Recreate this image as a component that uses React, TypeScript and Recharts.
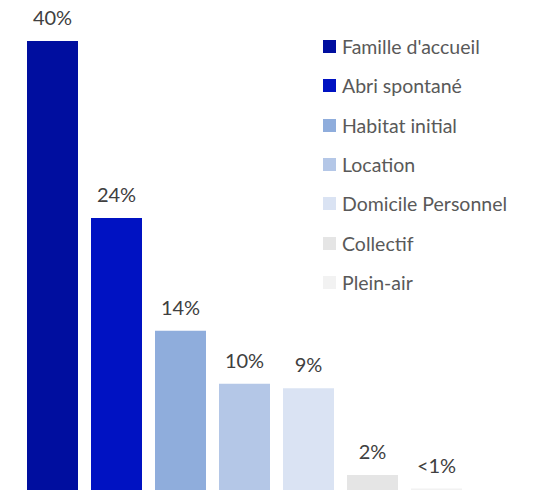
import React from "react";
import { Bar, BarChart, Cell, LabelList, Legend, XAxis, YAxis } from "recharts";

const categories = [
  "Famille d'accueil",
  "Abri spontané",
  "Habitat initial",
  "Location",
  "Domicile Personnel",
  "Collectif",
  "Plein-air",
];
const values = [40, 24.3, 14.3, 9.6, 9.2, 1.5, 0.3];
const labels = ["40%", "24%", "14%", "10%", "9%", "2%", "<1%"];
const colors = [
  "#000e9f",
  "#0012c2",
  "#8faddc",
  "#b4c7e7",
  "#dae3f3",
  "#e5e5e5",
  "#f2f2f2",
];

const FONT = "'Gill Sans', Lato, sans-serif";

const chartData = categories.map((name, i) => ({
  name,
  value: values[i],
  label: labels[i],
}));

// custom legend: square + name, one per row
const renderLegend = () => (
  <div style={{ fontFamily: FONT }}>
    {categories.map((name, i) => (
      <div
        key={name}
        style={{ display: "flex", alignItems: "center", height: 39.3 }}
      >
        <span
          style={{
            width: 13,
            height: 13,
            background: colors[i],
            marginRight: 6,
            display: "inline-block",
          }}
        />
        <span style={{ fontSize: 19.5, color: "#595959" }}>{name}</span>
      </div>
    ))}
  </div>
);

const App: React.FC = () => {
  return (
    <div
      style={{
        position: "fixed",
        top: 0,
        left: 0,
        width: 545,
        height: 490,
        overflow: "hidden",
        background: "#fff",
      }}
    >
      <BarChart
        width={545}
        height={500}
        data={chartData}
        margin={{ top: 41, right: 77, bottom: 8, left: 20 }}
      >
        <XAxis dataKey="name" hide />
        <YAxis hide domain={[0, 40]} />
        <Legend
          layout="vertical"
          align="center"
          verticalAlign="middle"
          content={renderLegend}
          wrapperStyle={{ top: 27, left: 323, width: 222 }}
        />
        <Bar dataKey="value" barSize={51} isAnimationActive={false}>
          {chartData.map((entry, index) => (
            <Cell key={`cell-${index}`} fill={colors[index]} />
          ))}
          <LabelList
            dataKey="label"
            position="top"
            offset={16}
            fill="#404040"
            fontSize={20}
            fontFamily={FONT}
          />
        </Bar>
      </BarChart>
    </div>
  );
};

export default App;
